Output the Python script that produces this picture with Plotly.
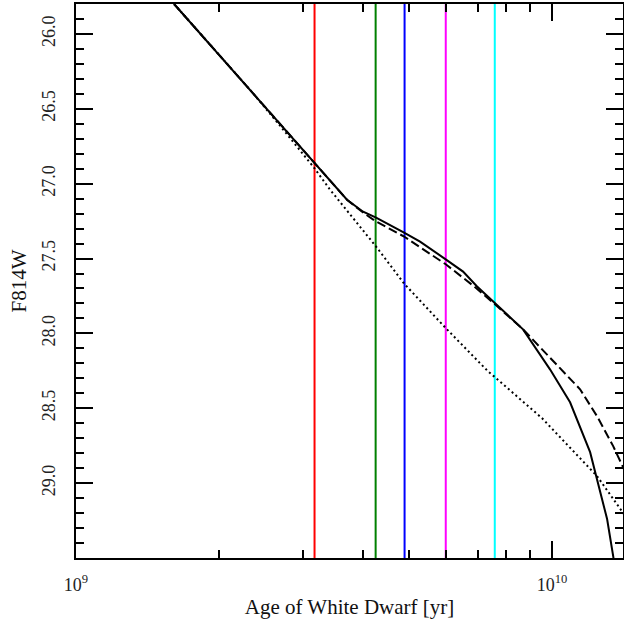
import plotly.graph_objects as go

# Curve data (age in yr, F814W magnitude)
solid_age = [1.607e9, 2.321e9, 3.162e9, 3.709e9, 4.009e9, 4.269e9, 4.888e9, 5.281e9,
             5.989e9, 6.502e9, 6.958e9, 7.552e9, 8.69e9, 9.90e9, 1.091e10, 1.202e10,
             1.243e10, 1.305e10, 1.344e10, 1.36e10]
solid_mag = [25.80, 26.375, 26.86, 27.107, 27.187, 27.227, 27.327, 27.387,
             27.507, 27.587, 27.687, 27.793, 27.973, 28.24, 28.46, 28.793,
             28.973, 29.24, 29.487, 29.60]

dashed_age = [1.607e9, 2.321e9, 3.162e9, 3.709e9, 4.009e9, 4.269e9, 4.888e9, 5.989e9,
              6.863e9, 7.552e9, 8.69e9, 9.40e9, 1.059e10, 1.145e10, 1.243e10, 1.344e10,
              1.416e10]
dashed_mag = [25.80, 26.375, 26.86, 27.107, 27.193, 27.253, 27.353, 27.54,
              27.687, 27.80, 27.973, 28.087, 28.26, 28.373, 28.553, 28.753,
              28.907]

dotted_age = [1.607e9, 2.321e9, 2.683e9, 3.162e9, 3.417e9, 4.269e9, 4.888e9, 5.989e9,
              7.334e9, 7.552e9, 9.53e9, 1.243e10, 1.416e10]
dotted_mag = [25.80, 26.373, 26.613, 26.893, 27.04, 27.42, 27.667, 27.967,
              28.253, 28.287, 28.567, 28.953, 29.207]

# Vertical marker ages and colours
vline_ages = [3.17e9, 4.26e9, 4.90e9, 5.98e9, 7.58e9]
vline_colors = ["#ff0000", "#008000", "#0000ff", "#ff00ff", "#00ffff"]

# Axis settings
x_range_log = [9.0, 10.149]
y_range = [29.5, 25.8]
x_major = [1e9, 1e10]
x_major_text = ["10<sup>9</sup>", "10<sup>10</sup>"]
x_minor = [2e9, 3e9, 4e9, 5e9, 6e9, 7e9, 8e9, 9e9]
y_major = [26.0, 26.5, 27.0, 27.5, 28.0, 28.5, 29.0]
y_major_text = ["26.0", "26.5", "27.0", "27.5", "28.0", "28.5", "29.0"]

fig = go.Figure()

for age, col in zip(vline_ages, vline_colors):
    fig.add_trace(go.Scatter(x=[age, age], y=[y_range[1] - 1, y_range[0] + 1], mode="lines",
                             line=dict(color=col, width=2), showlegend=False,
                             hoverinfo="skip"))

fig.add_trace(go.Scatter(x=dotted_age, y=dotted_mag, mode="lines",
                         line=dict(color="black", width=2, dash="2px,3px"), showlegend=False))
fig.add_trace(go.Scatter(x=dashed_age, y=dashed_mag, mode="lines",
                         line=dict(color="black", width=2, dash="9px,4px"), showlegend=False))
fig.add_trace(go.Scatter(x=solid_age, y=solid_mag, mode="lines",
                         line=dict(color="black", width=2), showlegend=False))

font_family = "Liberation Serif"

fig.update_layout(
    width=624, height=624,
    margin=dict(l=76, r=1, t=4, b=66),
    paper_bgcolor="white", plot_bgcolor="white",
    font=dict(family=font_family, color="black", size=17),
    xaxis=dict(
        type="log", range=x_range_log, automargin=False,
        showgrid=False, zeroline=False,
        showline=True, linecolor="black", linewidth=2, mirror="allticks",
        ticks="inside", ticklen=17, tickwidth=1.5, tickcolor="black",
        tickvals=x_major, ticktext=x_major_text, ticklabelstandoff=9,
        tickfont=dict(size=18, family=font_family, color="#222"),
        minor=dict(tickvals=x_minor, ticks="inside", ticklen=8, tickwidth=1.5,
                   tickcolor="black", showgrid=False),
        title=dict(text="Age of White Dwarf [yr]", font=dict(size=21, family=font_family,
                                                            color="#111"),
                   standoff=6),
    ),
    yaxis=dict(
        range=y_range, automargin=False,
        showgrid=False, zeroline=False,
        showline=True, linecolor="black", linewidth=2, mirror="allticks",
        ticks="inside", ticklen=17, tickwidth=1.5, tickcolor="black",
        tickvals=y_major, ticktext=y_major_text, tickangle=-90,
        ticklabelstandoff=12,
        tickfont=dict(size=18, family=font_family, color="#222"),
        minor=dict(dtick=0.1, ticks="inside", ticklen=8, tickwidth=1.5,
                   tickcolor="black", showgrid=False),
        title=dict(text="F814W", font=dict(size=21, family=font_family, color="#111"),
                   standoff=6),
    ),
)

fig.write_html("out.html", config={"displayModeBar": False},
               post_script="document.body.style.margin='0px';")
